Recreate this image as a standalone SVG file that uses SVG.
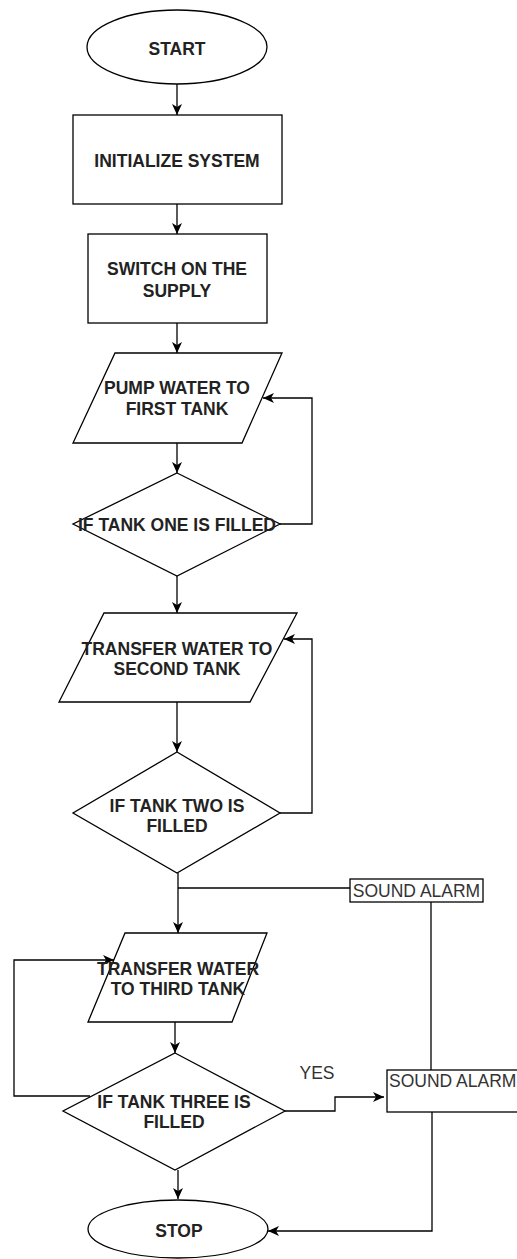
<svg xmlns="http://www.w3.org/2000/svg" width="517" height="1259" viewBox="0 0 517 1259">
<style>
.shape{fill:#fff;stroke:#000;stroke-width:1.3}
.conn{fill:none;stroke:#000;stroke-width:1.3}
.t{font-family:"Liberation Sans",Arial,sans-serif;font-size:17.5px;font-weight:bold;fill:#222;text-anchor:middle}
.r{font-family:"Liberation Sans",Arial,sans-serif;font-size:17.5px;fill:#333}
</style>
<defs>
<marker id="arr" markerUnits="userSpaceOnUse" markerWidth="12" markerHeight="10" refX="11" refY="5" orient="auto">
<path d="M0,0 L11,5 L0,10 L3,5 z" fill="#000"/>
</marker>
</defs>
<rect width="517" height="1259" fill="#fff"/>
<g id="connectors">
<path class="conn" d="M177,84 L177,115" marker-end="url(#arr)"/>
<path class="conn" d="M177,204 L177,234" marker-end="url(#arr)"/>
<path class="conn" d="M177,323 L177,353" marker-end="url(#arr)"/>
<path class="conn" d="M177,443 L177,473" marker-end="url(#arr)"/>
<path class="conn" d="M280,524 L312,524 L312,398 L263,398" marker-end="url(#arr)"/>
<path class="conn" d="M177,576 L177,613" marker-end="url(#arr)"/>
<path class="conn" d="M177,702 L177,752" marker-end="url(#arr)"/>
<path class="conn" d="M280,813 L312,813 L312,639 L284,639" marker-end="url(#arr)"/>
<path class="conn" d="M178,873 L178,933" marker-end="url(#arr)"/>
<path class="conn" d="M178,888 L350,888"/>
<path class="conn" d="M431,902 L431,1070"/>
<path class="conn" d="M175,1022 L175,1053" marker-end="url(#arr)"/>
<path class="conn" d="M90,1096 L14,1096 L14,960 L114,960" marker-end="url(#arr)"/>
<path class="conn" d="M285,1111 L335,1111 L335,1097 L384,1097" marker-end="url(#arr)"/>
<path class="conn" d="M432,1112 L432,1231 L268,1231" marker-end="url(#arr)"/>
<path class="conn" d="M178,1170 L178,1199" marker-end="url(#arr)"/>
</g>
<g id="start">
<ellipse class="shape" cx="177" cy="47" rx="90" ry="37"/>
<text class="t" x="177" y="55">START</text>
</g>
<g id="init">
<rect class="shape" x="73" y="115" width="209" height="89"/>
<text class="t" x="177" y="167">INITIALIZE SYSTEM</text>
</g>
<g id="switch">
<rect class="shape" x="88" y="234" width="179" height="89"/>
<text class="t" x="177" y="275">SWITCH ON THE</text>
<text class="t" x="177" y="297">SUPPLY</text>
</g>
<g id="pump">
<polygon class="shape" points="115,353 282,353 242,443 73,443"/>
<text class="t" x="177" y="394">PUMP WATER TO</text>
<text class="t" x="177" y="415">FIRST TANK</text>
</g>
<g id="dec1">
<polygon class="shape" points="177,473 280,524 177,576 73,524"/>
<text class="t" x="177" y="531">IF TANK ONE IS FILLED</text>
</g>
<g id="transfer2">
<polygon class="shape" points="104,613 297,613 250,702 59,702"/>
<text class="t" x="177" y="655">TRANSFER WATER TO</text>
<text class="t" x="177" y="675">SECOND TANK</text>
</g>
<g id="dec2">
<polygon class="shape" points="177,752 280,813 177,873 73,813"/>
<text class="t" x="177" y="812">IF TANK TWO IS</text>
<text class="t" x="177" y="832">FILLED</text>
</g>
<g id="alarm1">
<rect class="shape" x="350" y="879" width="133" height="23"/>
<text class="r" x="416.5" y="897" text-anchor="middle">SOUND ALARM</text>
</g>
<g id="transfer3">
<polygon class="shape" points="125,933 267,933 232,1022 88,1022"/>
<text class="t" x="178" y="975">TRANSFER WATER</text>
<text class="t" x="178" y="995">TO THIRD TANK</text>
</g>
<g id="dec3">
<polygon class="shape" points="175,1053 285,1111 175,1170 63,1111"/>
<text class="t" x="174" y="1108">IF TANK THREE IS</text>
<text class="t" x="174" y="1128">FILLED</text>
</g>
<g id="yes">
<text class="r" x="317" y="1079" text-anchor="middle">YES</text>
</g>
<g id="alarm2">
<rect class="shape" x="387" y="1070" width="140" height="42"/>
<text class="r" x="389" y="1087">SOUND ALARM</text>
</g>
<g id="stop">
<ellipse class="shape" cx="178" cy="1229" rx="90" ry="29"/>
<text class="t" x="179" y="1237">STOP</text>
</g>
</svg>
